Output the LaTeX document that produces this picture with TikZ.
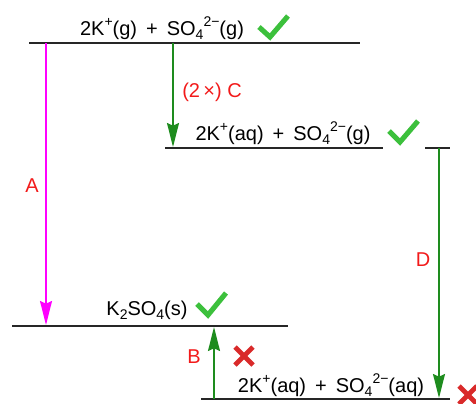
\documentclass[tikz,border=0pt]{standalone}
\usepackage{fontspec}
\setmainfont{Liberation Sans}
\usetikzlibrary{arrows.meta}
\definecolor{arrgreen}{HTML}{1E8C1E}
\definecolor{okgreen}{HTML}{3CC03C}
\definecolor{nored}{HTML}{D92A2A}
\definecolor{lblred}{HTML}{F21A1A}
\definecolor{arrmag}{HTML}{FF00FF}
\newcommand\up[1]{\raisebox{0.42em}{\fontsize{10.5}{10}\selectfont #1}}
\newcommand\dn[1]{\raisebox{-0.22em}{\fontsize{10.5}{10}\selectfont #1}}
\newcommand\pl{\hspace{0.45em}+\hspace{0.45em}}

\begin{document}
\begin{tikzpicture}[x=0.75pt,y=-0.75pt,
  level/.style={line width=1.1pt,black!85},
  arr/.style={-{Stealth[length=18pt,width=9pt,inset=2pt]},line width=1.1pt},
  txt/.style={anchor=base,font=\fontsize{15}{17}\selectfont,inner sep=0pt},
  lbl/.style={txt,text=lblred},
  okmark/.style={okgreen,line width=3.8pt,line join=miter},
  nomark/.style={nored,line width=3.6pt}]
\useasboundingbox (0,0) rectangle (476,404);
% energy levels
\coordinate (gl) at (29,43);  \coordinate (gr) at (360,43);
\coordinate (ml) at (165,148); \coordinate (mr) at (383,148);
\coordinate (ml2) at (425,148); \coordinate (mr2) at (450,148);
\coordinate (sl) at (12,326); \coordinate (sr) at (288,326);
\coordinate (al) at (201,399); \coordinate (ar) at (450,399);
\draw[level] (gl)--(gr); \draw[level] (ml)--(mr); \draw[level] (ml2)--(mr2);
\draw[level] (sl)--(sr); \draw[level] (al)--(ar);
\node[txt] (gas) at (162,35) {2K\up{+}(g)\pl SO\dn{4}\up{2−}(g)};
\node[txt] (hyd) at (283,140) {2K\up{+}(aq)\pl SO\dn{4}\up{2−}(g)};
\node[txt] (sol) at (147,315) {K\dn{2}SO\dn{4}(s)};
\node[txt] (aq) at (331,392) {2K\up{+}(aq)\pl SO\dn{4}\up{2−}(aq)};
% arrows
\coordinate (a1) at (46,43);   \coordinate (a2) at (46,325);
\coordinate (c1) at (173,43);  \coordinate (c2) at (173,147);
\coordinate (d1) at (439,148); \coordinate (d2) at (439,398);
\coordinate (b1) at (214,399); \coordinate (b2) at (214,327);
\draw[arr,arrmag] (a1)--(a2); \draw[arr,arrgreen] (c1)--(c2);
\draw[arr,arrgreen] (d1)--(d2); \draw[arr,arrgreen] (b1)--(b2);
\node[lbl] (la) at (32,192) {A};
\node[lbl] (lc) at (212,97) {(2\,×) C};
\node[lbl] (ld) at (423,266) {D};
\node[lbl] (lb) at (194,363) {B};
% marks
\draw[okmark] (259,27)--(270,37)--(288,16);
\draw[okmark] (389,131)--(400,142)--(418,121);
\draw[okmark] (197,304)--(208,315)--(226,293);
\draw[nomark] (235,347)--(253,365) (253,347)--(235,365);
\draw[nomark] (459,386)--(477,404) (477,386)--(459,404);
\end{tikzpicture}
\end{document}
